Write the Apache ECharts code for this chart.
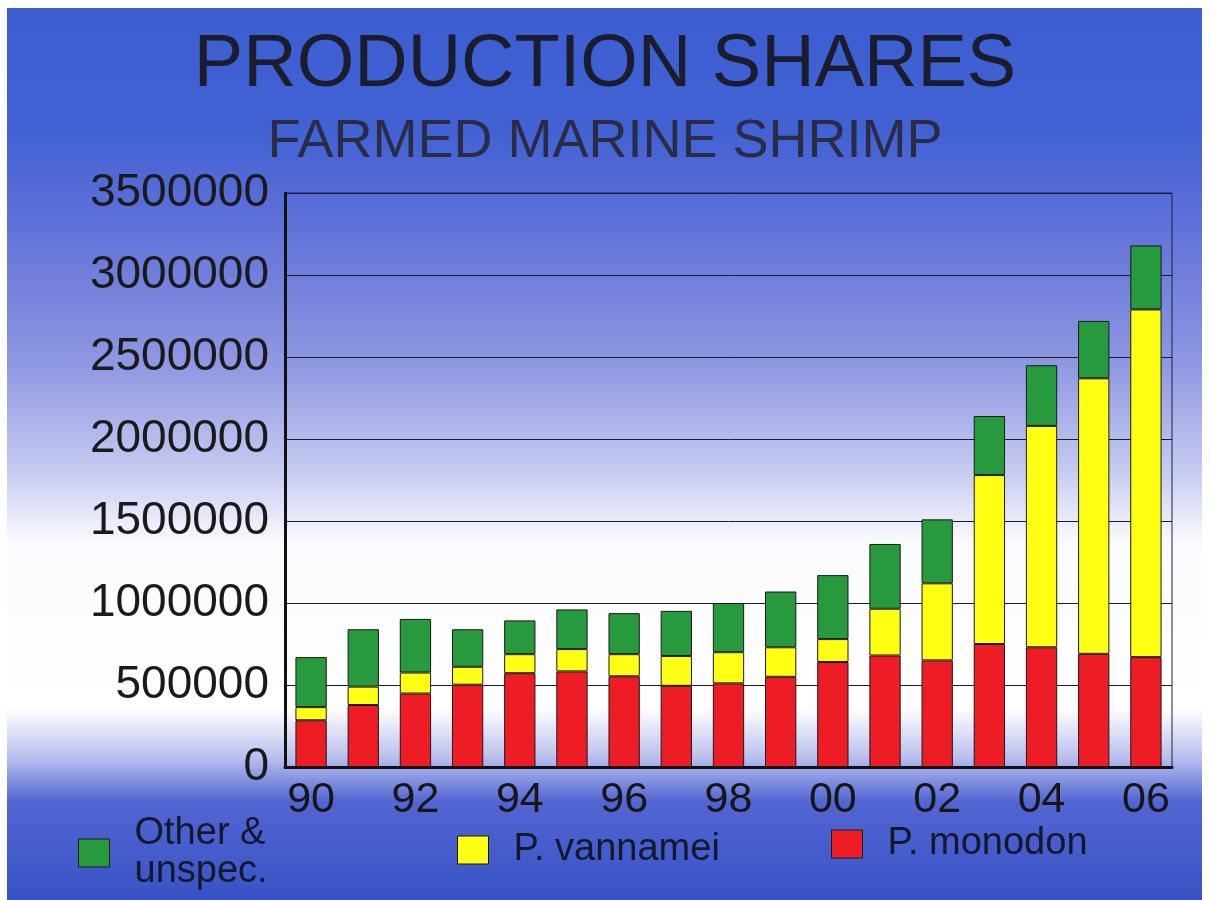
<!DOCTYPE html>
<html>
<head>
<meta charset="utf-8">
<script src="https://cdn.jsdelivr.net/npm/echarts@6/dist/echarts.min.js"></script>
<style>
html,body{margin:0;padding:0;background:#ffffff;}
#chart{width:1210px;height:900px;}
</style>
</head>
<body>
<div id="chart"></div>
<script>
var years = ['90','91','92','93','94','95','96','97','98','99','00','01','02','03','04','05','06'];
var monodon  = [285000, 378000, 448000, 502000, 572000, 583000, 553000, 495000, 510000, 550000, 640000, 680000, 650000, 750000, 730000, 690000, 670000];
var vannamei = [ 80000, 112000, 128000, 109000, 116000, 136000, 135000, 182000, 190000, 180000, 140000, 285000, 470000, 1030000, 1350000, 1680000, 2120000];
var other    = [305000, 350000, 327000, 229000, 206000, 242000, 250000, 275000, 300000, 340000, 390000, 395000, 390000, 360000, 370000, 350000, 390000];
var seriesNames = ['Other &\nunspec.', 'P. vannamei', 'P. monodon'];
var yTicks = [0, 500000, 1000000, 1500000, 2000000, 2500000, 3000000, 3500000];

var FONT = '"Liberation Sans", Arial, sans-serif';
var chart = echarts.init(document.getElementById('chart'), null, {renderer: 'canvas'});

function legendFor(name, left, top) {
  return {
    data: [name],
    left: left, top: top,
    orient: 'horizontal',
    icon: 'rect',
    itemWidth: 31, itemHeight: 28,
    selectedMode: false,
    itemStyle: {borderColor: '#1a1a1a', borderWidth: 1},
    textStyle: {fontFamily: FONT, fontSize: 38, color: '#15172a', lineHeight: 38, padding: [0, 0, 0, 20]}
  };
}

var option = {
  animation: false,
  backgroundColor: '#ffffff',
  graphic: [{
    type: 'rect', z: -10, silent: true,
    shape: {x: 7, y: 8, width: 1195, height: 892},
    style: {
      fill: new echarts.graphic.LinearGradient(0, 0, 0, 1, [
        {offset: 0.00, color: '#3c5ed2'},
        {offset: 0.14, color: '#4262d4'},
        {offset: 0.24, color: '#5f70d8'},
        {offset: 0.40, color: '#8f98e2'},
        {offset: 0.52, color: '#c6cbf1'},
        {offset: 0.60, color: '#fbfbff'},
        {offset: 0.785, color: '#ffffff'},
        {offset: 0.84, color: '#b9c0ee'},
        {offset: 0.89, color: '#5265d2'},
        {offset: 1.00, color: '#3853c6'}
      ])
    }
  }],
  title: {
    text: 'PRODUCTION SHARES',
    subtext: 'FARMED MARINE SHRIMP',
    left: 'center',
    top: 24,
    itemGap: 12,
    textStyle: {fontFamily: FONT, fontSize: 74, fontWeight: 'normal', color: '#1b1c2c'},
    subtextStyle: {fontFamily: FONT, fontSize: 54, color: '#2a2c46'}
  },
  legend: [
    legendFor(seriesNames[0], 73, 810),
    legendFor(seriesNames[1], 452, 826),
    legendFor(seriesNames[2], 826, 820)
  ],
  grid: {
    left: 285, right: 38, top: 193, bottom: 133,
    show: true, borderColor: '#1e2230', borderWidth: 1, backgroundColor: 'transparent'
  },
  xAxis: {
    type: 'category',
    data: years,
    axisLine: {show: true, lineStyle: {color: '#111111', width: 3}},
    axisTick: {show: false},
    axisLabel: {interval: 1, fontFamily: FONT, fontSize: 43, color: '#161616', margin: 12}
  },
  yAxis: {
    type: 'value',
    min: 0, max: 3500000, interval: 500000,
    axisLine: {show: true, lineStyle: {color: '#111111', width: 3}},
    axisTick: {show: false},
    splitLine: {show: true, lineStyle: {color: '#1a1c26', width: 1}},
    axisLabel: {fontFamily: FONT, fontSize: 46, color: '#1a1a1a', margin: 16,
      formatter: function (v) { return yTicks.indexOf(v) >= 0 ? String(v) : ''; }}
  },
  series: [
    {name: seriesNames[2], type: 'bar', stack: 'total', data: monodon, barWidth: '60%',
      itemStyle: {color: '#ee1c24', borderColor: '#1a1a1a', borderWidth: 1}},
    {name: seriesNames[1], type: 'bar', stack: 'total', data: vannamei, barWidth: '60%',
      itemStyle: {color: '#ffff14', borderColor: '#1a1a1a', borderWidth: 1}},
    {name: seriesNames[0], type: 'bar', stack: 'total', data: other, barWidth: '60%',
      itemStyle: {color: '#279a3e', borderColor: '#1a1a1a', borderWidth: 1}}
  ]
};
chart.setOption(option);
</script>
</body>
</html>
